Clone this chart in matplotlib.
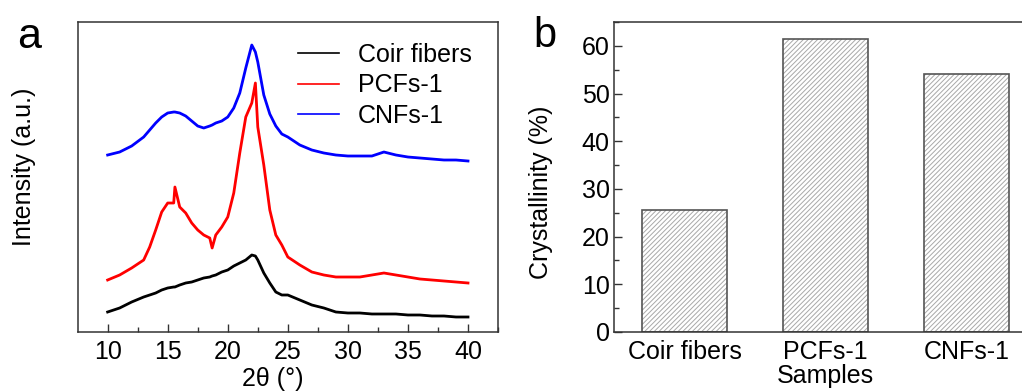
import numpy as np
import matplotlib
matplotlib.use('Agg')
import matplotlib.pyplot as plt
from matplotlib.ticker import MultipleLocator

plt.rcParams['font.family'] = ['Liberation Sans', 'DejaVu Sans']
plt.rcParams['hatch.linewidth'] = 0.7

# XRD patterns (intensity in a.u.)
two_theta = [10, 11, 12, 13, 13.5, 14, 14.5, 15, 15.5, 15.6, 16, 16.5, 17, 17.5,
             18, 18.5, 18.7, 19, 19.5, 20, 20.5, 21, 21.5, 22, 22.3, 22.5, 23,
             23.5, 24, 24.5, 25, 26, 27, 28, 29, 30, 31, 32, 33, 34, 35, 36, 37,
             38, 39, 40]
coir = [20, 24, 30, 35, 37, 39, 42, 44, 45, 45, 47, 49, 50, 52, 54, 55, 56, 57,
        60, 62, 66, 69, 72, 77, 76, 72, 59, 49, 40, 37, 37, 32, 27, 24, 20, 19,
        19, 18, 18, 18, 17, 17, 16, 16, 15, 15]
pcfs = [52, 57, 64, 72, 85, 102, 120, 129, 129, 145, 125, 119, 109, 102, 97, 94,
        84, 97, 105, 115, 139, 179, 215, 229, 249, 205, 167, 122, 97, 87, 75, 67,
        60, 57, 55, 55, 55, 57, 59, 57, 55, 53, 52, 51, 50, 49]
cnfs = [177, 180, 186, 195, 202, 209, 215, 219, 220, 220, 219, 216, 211, 206,
        204, 206, 207, 209, 211, 215, 224, 239, 264, 287, 280, 270, 237, 218,
        206, 198, 195, 187, 182, 179, 177, 176, 176, 176, 180, 177, 175, 174,
        173, 172, 172, 171]

# crystallinity index
samples = ['Coir fibers', 'PCFs-1', 'CNFs-1']
crystallinity = [25.5, 61.5, 54.2]

fig = plt.figure(figsize=(10.22, 3.91), dpi=100)
spine_col = '#333333'

# ---- panel a
ax1 = fig.add_axes([0.0763, 0.1509, 0.411, 0.7928])
ax1.plot(two_theta, coir, color='black', lw=2.0, label='Coir fibers')
ax1.plot(two_theta, pcfs, color='#ff0000', lw=2.0, label='PCFs-1')
ax1.plot(two_theta, cnfs, color='#0000ff', lw=2.0, label='CNFs-1')
ax1.set_xlim(7.53, 42.5)
ax1.set_ylim(0, 310)
ax1.set_yticks([])
ax1.xaxis.set_major_locator(MultipleLocator(5))
ax1.xaxis.set_minor_locator(MultipleLocator(2.5))
ax1.tick_params(axis='x', which='major', direction='in', length=6, width=1,
                color=spine_col, labelsize=18, pad=6)
ax1.tick_params(axis='x', which='minor', direction='in', length=3.5, width=1,
                color=spine_col)
for s in ax1.spines.values():
    s.set_color(spine_col)
    s.set_linewidth(1.1)
ax1.set_xlabel('2θ (°)', fontsize=18)
ax1.xaxis.set_label_coords(0.464, -0.112)
ax1.set_ylabel('Intensity (a.u.)', fontsize=18)
ax1.yaxis.set_label_coords(-0.100, 0.532)
leg = ax1.legend(loc='upper left', bbox_to_anchor=(0.5, 0.965), frameon=False,
                 fontsize=18, handlelength=1.65, handletextpad=0.75,
                 labelspacing=0.26, borderaxespad=0)
for h in leg.get_lines():
    h.set_linewidth(1.2)
fig.text(17 / 1022, 1 - 48 / 391, 'a', fontsize=31, va='baseline', ha='left')

# ---- panel b (runs past the right edge, as in the source)
ax2 = fig.add_axes([0.6008, 0.1509, 0.414, 0.7928])
xpos = np.arange(len(samples))
ax2.bar(xpos, crystallinity, width=0.6, color='white', edgecolor='#a8a8a8',
        hatch='///////', linewidth=0)
ax2.bar(xpos, crystallinity, width=0.6, fill=False, edgecolor='#555555',
        linewidth=1.2)
ax2.set_xlim(-0.5, 2.5)
ax2.set_ylim(0, 65)
ax2.set_xticks(xpos)
ax2.set_xticklabels(samples)
ax2.yaxis.set_major_locator(MultipleLocator(10))
ax2.yaxis.set_minor_locator(MultipleLocator(5))
ax2.tick_params(axis='y', which='major', direction='in', length=6, width=1,
                color=spine_col, labelsize=18, pad=3)
ax2.tick_params(axis='y', which='minor', direction='in', length=3.5, width=1,
                color=spine_col)
ax2.tick_params(axis='x', which='major', length=0, labelsize=18, pad=6)
for s in ax2.spines.values():
    s.set_color(spine_col)
    s.set_linewidth(1.1)
ax2.set_xlabel('Samples', fontsize=18)
ax2.xaxis.set_label_coords(0.5, -0.104)
ax2.set_ylabel('Crystallinity (%)', fontsize=18)
ax2.yaxis.set_label_coords(-0.145, 0.45)
fig.text(533 / 1022, 1 - 47 / 391, 'b', fontsize=30, va='baseline', ha='left')

fig.savefig('out.png', dpi=100)
